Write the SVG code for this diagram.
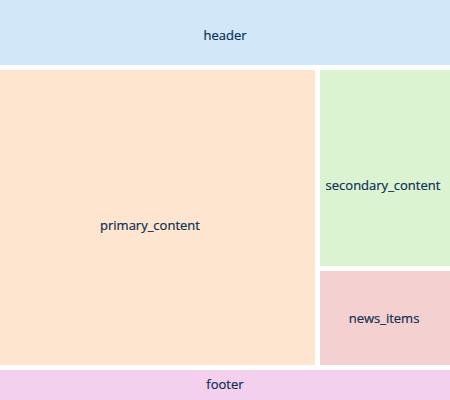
<svg xmlns="http://www.w3.org/2000/svg" width="450" height="400" viewBox="0 0 450 400">
<style>
text{font-family:"Open Sans","Noto Sans",sans-serif;font-size:13px;fill:#0c2f52;text-anchor:middle;dominant-baseline:central;stroke:#0c2f52;stroke-width:0.2}
</style>
<rect width="450" height="400" fill="#ffffff"/>
<g id="header"><rect x="0" y="0" width="450" height="65" fill="#d2e8f8"/><text x="225" y="35">header</text></g>
<g id="primary_content"><rect x="0" y="70" width="315" height="295" fill="#fee5cf"/><text x="150" y="225">primary_content</text></g>
<g id="secondary_content"><rect x="320" y="70" width="130" height="196" fill="#dcf3d2"/><text x="383" y="185">secondary_content</text></g>
<g id="news_items"><rect x="320" y="271" width="130" height="94" fill="#f5d0d1"/><text x="384" y="318">news_items</text></g>
<g id="footer"><rect x="0" y="370" width="450" height="30" fill="#f2d0ee"/><text x="225" y="384">footer</text></g>
<g id="connectors"/>
</svg>
